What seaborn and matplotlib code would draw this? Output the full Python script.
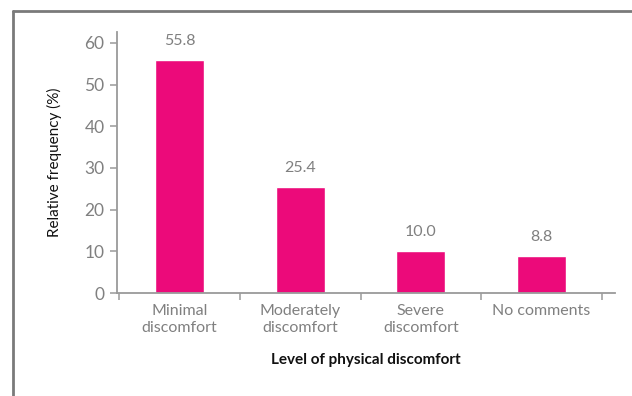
import matplotlib
matplotlib.use("Agg")
import matplotlib.pyplot as plt
from matplotlib.lines import Line2D
import seaborn as sns
import pandas as pd

categories = ["Minimal\ndiscomfort", "Moderately\ndiscomfort", "Severe\ndiscomfort", "No comments"]
values = [55.8, 25.4, 10.0, 8.8]
yticks = [0, 10, 20, 30, 40, 50, 60]

sns.set_theme(style="white")
plt.rcParams["font.family"] = ["Lato", "DejaVu Sans"]

BAR = "#EC0A7A"
GREY_TXT = "#808080"
GREY_AX = "#9a9a9a"

df = pd.DataFrame({"level": categories, "freq": values})

fig = plt.figure(figsize=(6.32, 3.96), dpi=100)
ax = fig.add_axes([0.185, 0.260, 0.788, 0.659])

sns.barplot(data=df, x="level", y="freq", color=BAR, saturation=1, width=0.405, ax=ax)

ax.set_xlim(-0.52, 3.61)
ax.set_ylim(0, 62.6)
ax.set_yticks(yticks)
ax.set_yticklabels([str(t) for t in yticks])

for spine in ["top", "right"]:
    ax.spines[spine].set_visible(False)
for spine in ["left", "bottom"]:
    ax.spines[spine].set_color(GREY_AX)
    ax.spines[spine].set_linewidth(1.3)

ax.tick_params(axis="y", which="major", direction="out", length=5, width=1.1,
               color=GREY_AX, labelcolor=GREY_TXT, labelsize=12.5, pad=4, left=True)
ax.tick_params(axis="x", which="major", length=0, labelcolor=GREY_TXT, labelsize=11.5, pad=8)
ax.set_xticks([-0.5, 0.5, 1.5, 2.5, 3.5], minor=True)
ax.tick_params(axis="x", which="minor", direction="out", length=5, width=1.1,
               color=GREY_AX, bottom=True)
for lab in ax.get_xticklabels():
    lab.set_linespacing(1.25)

for i, v in enumerate(values):
    ax.annotate(f"{v:.1f}", (i, v), xytext=(0, 9), textcoords="offset points",
                ha="center", va="bottom", color=GREY_TXT, fontsize=11.5)

ax.set_xlabel("Level of physical discomfort", fontsize=11, fontweight="bold",
              color="#111111", labelpad=13)
ax.set_ylabel("Relative frequency (%)", fontsize=11, color="#111111", labelpad=16)

# frame lines along the top and left edges of the figure
W, H = 632, 396
fig.add_artist(Line2D([13 / W, 1.0], [1 - 11 / H, 1 - 11 / H], transform=fig.transFigure,
                      color="#7a7a7a", lw=2.0))
fig.add_artist(Line2D([13 / W, 13 / W], [0.0, 1 - 11 / H], transform=fig.transFigure,
                      color="#7a7a7a", lw=2.0))

fig.savefig("out.png", dpi=100)
